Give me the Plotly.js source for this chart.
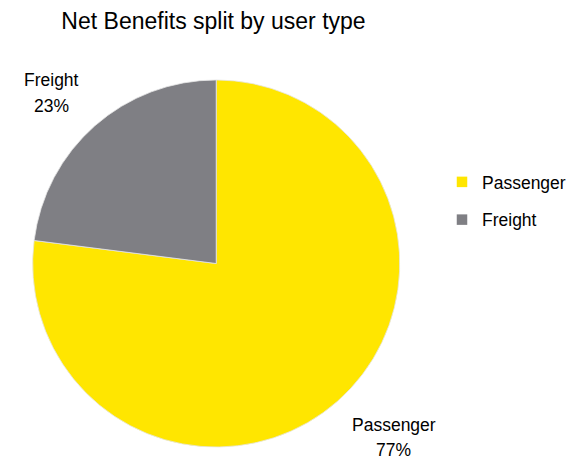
<!DOCTYPE html>
<html><head><meta charset="utf-8">
<script src="https://cdn.plot.ly/plotly-3.0.1.min.js"></script>
<style>html,body{margin:0;padding:0;background:#fff}</style>
</head><body>
<div id="chart" style="width:571px;height:462px"></div>
<script>
const categories = ["Passenger", "Freight"];
const values = [77, 23];
const colors = ["#FFE600", "#7F7F84"];
const FONT = "Liberation Sans, Arial, sans-serif";
const W = 571, H = 462;

const total = values.reduce((a, b) => a + b, 0);
const pct = values.map(v => Math.round(v / total * 100) + "%");

const pie = {
  type: "pie",
  labels: categories,
  values: values,
  sort: false,
  direction: "clockwise",
  rotation: 0,
  marker: {colors: colors, line: {color: "#e6e6e6", width: 0.8}},
  textinfo: "none",
  showlegend: false,
  domain: {x: [33 / W, 404 / W], y: [13 / H, 384 / H]},
  hoverinfo: "none"
};

// legend entries (one per category, no visible data)
const legendTraces = categories.map((c, i) => ({
  type: "scatter", mode: "markers", x: [null], y: [null], name: c,
  legendgroup: "g" + i,
  marker: {symbol: "square", size: 10.5, color: colors[i]},
  hoverinfo: "none"
}));

// outside label positions (text anchors), per category: [x, name line y, pct line y]
const labelPos = [[398, 425, 450], [52, 80, 106]];
const annotations = [];
categories.forEach((c, i) => {
  const [lx, y1, y2] = labelPos[i];
  annotations.push({xref: "paper", yref: "paper", x: lx / W, y: 1 - y1 / H, text: c,
    showarrow: false, xanchor: "center", yanchor: "middle",
    font: {family: FONT, size: 17.5, color: "#000"}});
  annotations.push({xref: "paper", yref: "paper", x: lx / W, y: 1 - y2 / H, text: pct[i],
    showarrow: false, xanchor: "center", yanchor: "middle",
    font: {family: FONT, size: 17.5, color: "#000"}});
});

const layout = {
  width: W, height: H,
  margin: {l: 0, r: 0, t: 0, b: 0},
  paper_bgcolor: "#fff",
  plot_bgcolor: "rgba(0,0,0,0)",
  font: {family: FONT, color: "#000"},
  title: {text: "Net Benefits split by user type", font: {family: FONT, size: 23, color: "#000"},
          x: 213.5 / W, xanchor: "center", y: 1 - 21 / H, yanchor: "middle"},
  xaxis: {visible: false},
  yaxis: {visible: false},
  showlegend: true,
  legend: {x: 447 / W, xanchor: "left", y: 1 - 201 / H, yanchor: "middle",
           traceorder: "grouped", tracegroupgap: 12,
           font: {family: FONT, size: 17.5, color: "#000"}, itemwidth: 30},
  annotations: annotations
};

Plotly.newPlot("chart", [pie, ...legendTraces], layout, {displayModeBar: false, staticPlot: true});
</script>
</body></html>
